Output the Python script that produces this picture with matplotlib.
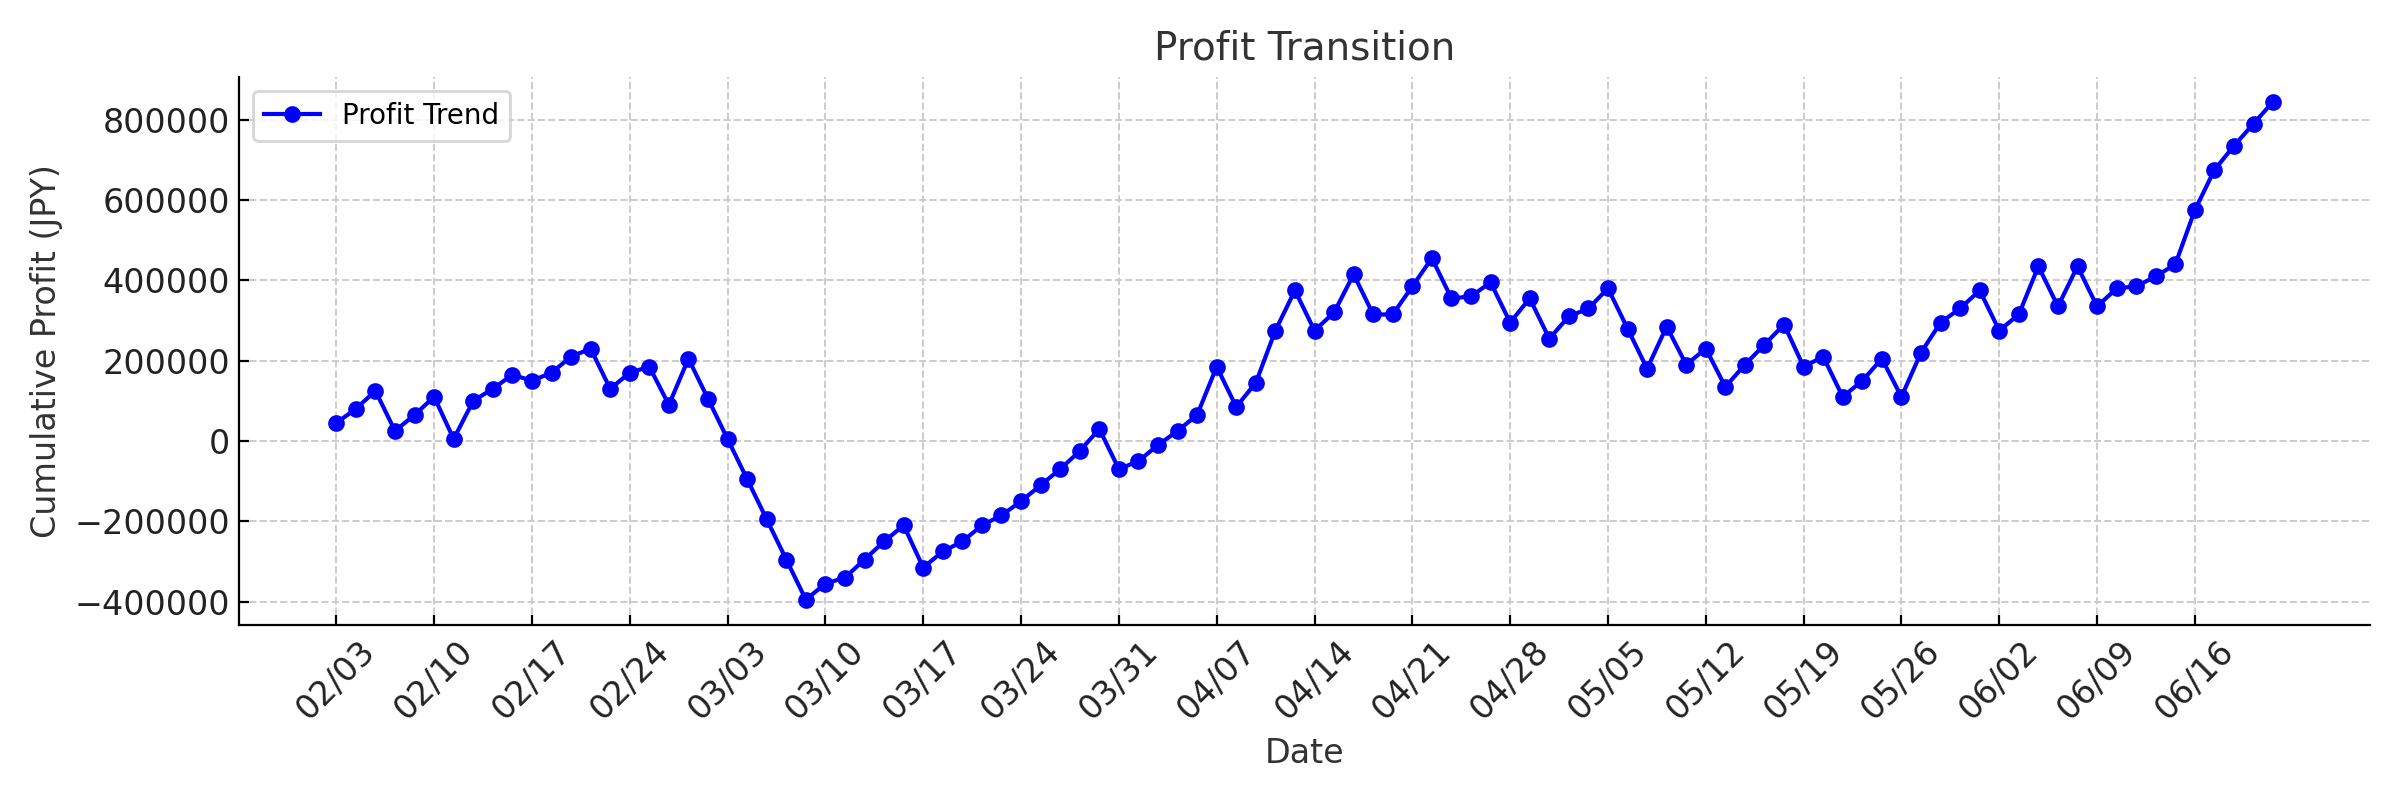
import matplotlib
matplotlib.use("Agg")
import matplotlib.pyplot as plt
import numpy as np

week_labels = ["02/03","02/10","02/17","02/24","03/03","03/10","03/17","03/24","03/31","04/07",
               "04/14","04/21","04/28","05/05","05/12","05/19","05/26","06/02","06/09","06/16"]
profit = [45000, 80000, 125000, 25000, 65000,
          110000, 5000, 100000, 130000, 165000,
          150000, 170000, 210000, 230000, 130000,
          170000, 185000, 90000, 205000, 105000,
          5000, -95000, -195000, -295000, -395000,
          -355000, -340000, -295000, -250000, -210000,
          -315000, -275000, -250000, -210000, -185000,
          -150000, -110000, -70000, -25000, 30000,
          -70000, -50000, -10000, 25000, 65000,
          185000, 85000, 145000, 275000, 375000,
          275000, 320000, 415000, 315000, 315000,
          385000, 455000, 355000, 360000, 395000,
          295000, 355000, 255000, 310000, 330000,
          380000, 280000, 180000, 285000, 190000,
          230000, 135000, 190000, 240000, 290000,
          185000, 210000, 110000, 150000, 205000,
          110000, 220000, 295000, 330000, 375000,
          275000, 315000, 435000, 335000, 435000,
          335000, 380000, 385000, 410000, 440000,
          575000, 675000, 735000, 790000, 845000]

x = np.arange(len(profit))
fig, ax = plt.subplots(figsize=(12, 4), dpi=200)
ax.plot(x, profit, color="blue", marker="o", markersize=5, linewidth=1.5, label="Profit Trend")
ax.set_xticks(np.arange(0, len(profit), 5))
ax.set_xticklabels(week_labels, rotation=45, fontsize=12, color="#222222")
ax.tick_params(axis="y", labelsize=12, labelcolor="#222222")
ax.tick_params(direction="in")
ax.set_title("Profit Transition", fontsize=14, color="#333333")
ax.set_xlabel("Date", fontsize=12, color="#333333")
ax.set_ylabel("Cumulative Profit (JPY)", fontsize=12, color="#333333")
ax.grid(True, linestyle="--", color="#cccccc", linewidth=0.7)
for s in ["top", "right"]:
    ax.spines[s].set_visible(False)
ax.legend(loc="upper left", fontsize=10)
fig.tight_layout()
fig.savefig("out.png")
